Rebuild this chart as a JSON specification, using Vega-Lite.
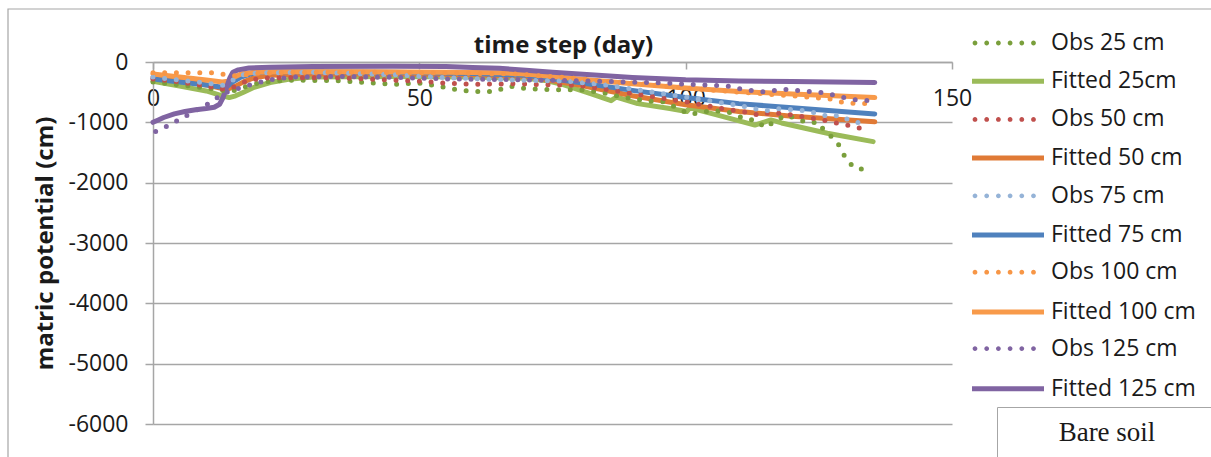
{
  "$schema": "https://vega.github.io/schema/vega-lite/v6.json",
  "width": 799,
  "height": 362,
  "padding": {"left": 8, "top": 9, "right": 0, "bottom": 0},
  "background": "white",
  "config": {"view": {"stroke": null}, "font": "Open Sans"},
  "resolve": {"scale": {"color": "independent"}},
  "datasets": {
    "lines": [
      {"s":"Obs 25 cm","d":0,"v":-330},{"s":"Obs 25 cm","d":5,"v":-380},{"s":"Obs 25 cm","d":10,"v":-430},{"s":"Obs 25 cm","d":13,"v":-470},{"s":"Obs 25 cm","d":15,"v":-480},{"s":"Obs 25 cm","d":17,"v":-420},{"s":"Obs 25 cm","d":20,"v":-340},{"s":"Obs 25 cm","d":25,"v":-300},{"s":"Obs 25 cm","d":35,"v":-310},{"s":"Obs 25 cm","d":45,"v":-370},{"s":"Obs 25 cm","d":50,"v":-350},{"s":"Obs 25 cm","d":53,"v":-390},{"s":"Obs 25 cm","d":57,"v":-460},{"s":"Obs 25 cm","d":60,"v":-490},{"s":"Obs 25 cm","d":64,"v":-490},{"s":"Obs 25 cm","d":67,"v":-400},{"s":"Obs 25 cm","d":70,"v":-440},{"s":"Obs 25 cm","d":75,"v":-460},{"s":"Obs 25 cm","d":80,"v":-460},{"s":"Obs 25 cm","d":84,"v":-500},{"s":"Obs 25 cm","d":88,"v":-580},{"s":"Obs 25 cm","d":93,"v":-650},{"s":"Obs 25 cm","d":96,"v":-660},{"s":"Obs 25 cm","d":100.8,"v":-870},{"s":"Obs 25 cm","d":105,"v":-800},{"s":"Obs 25 cm","d":108,"v":-830},{"s":"Obs 25 cm","d":111.5,"v":-955},{"s":"Obs 25 cm","d":113,"v":-960},{"s":"Obs 25 cm","d":115,"v":-1090},{"s":"Obs 25 cm","d":117,"v":-960},{"s":"Obs 25 cm","d":119,"v":-880},{"s":"Obs 25 cm","d":121,"v":-950},{"s":"Obs 25 cm","d":123,"v":-1010},{"s":"Obs 25 cm","d":125,"v":-1000},{"s":"Obs 25 cm","d":126,"v":-1140},{"s":"Obs 25 cm","d":128,"v":-1280},{"s":"Obs 25 cm","d":129,"v":-1410},{"s":"Obs 25 cm","d":130,"v":-1590},{"s":"Obs 25 cm","d":131.6,"v":-1750},{"s":"Obs 25 cm","d":134,"v":-1790},
      {"s":"Fitted 25cm","d":0,"v":-320},{"s":"Fitted 25cm","d":5,"v":-400},{"s":"Fitted 25cm","d":10,"v":-480},{"s":"Fitted 25cm","d":13,"v":-560},{"s":"Fitted 25cm","d":14.3,"v":-590},{"s":"Fitted 25cm","d":15.5,"v":-560},{"s":"Fitted 25cm","d":17,"v":-500},{"s":"Fitted 25cm","d":19,"v":-420},{"s":"Fitted 25cm","d":22,"v":-340},{"s":"Fitted 25cm","d":26,"v":-280},{"s":"Fitted 25cm","d":30,"v":-250},{"s":"Fitted 25cm","d":45,"v":-240},{"s":"Fitted 25cm","d":60,"v":-250},{"s":"Fitted 25cm","d":70,"v":-270},{"s":"Fitted 25cm","d":74,"v":-310},{"s":"Fitted 25cm","d":77,"v":-375},{"s":"Fitted 25cm","d":82,"v":-520},{"s":"Fitted 25cm","d":86,"v":-640},{"s":"Fitted 25cm","d":87,"v":-580},{"s":"Fitted 25cm","d":91,"v":-690},{"s":"Fitted 25cm","d":97,"v":-770},{"s":"Fitted 25cm","d":100.2,"v":-820},{"s":"Fitted 25cm","d":100.8,"v":-760},{"s":"Fitted 25cm","d":106,"v":-880},{"s":"Fitted 25cm","d":113,"v":-1045},{"s":"Fitted 25cm","d":116,"v":-960},{"s":"Fitted 25cm","d":118,"v":-1010},{"s":"Fitted 25cm","d":126.6,"v":-1180},{"s":"Fitted 25cm","d":135.2,"v":-1320},
      {"s":"Obs 50 cm","d":0,"v":-280},{"s":"Obs 50 cm","d":5,"v":-330},{"s":"Obs 50 cm","d":10,"v":-400},{"s":"Obs 50 cm","d":13,"v":-450},{"s":"Obs 50 cm","d":15,"v":-420},{"s":"Obs 50 cm","d":18,"v":-300},{"s":"Obs 50 cm","d":22,"v":-260},{"s":"Obs 50 cm","d":35,"v":-260},{"s":"Obs 50 cm","d":45,"v":-300},{"s":"Obs 50 cm","d":50,"v":-320},{"s":"Obs 50 cm","d":55,"v":-350},{"s":"Obs 50 cm","d":60,"v":-370},{"s":"Obs 50 cm","d":68,"v":-360},{"s":"Obs 50 cm","d":75,"v":-380},{"s":"Obs 50 cm","d":80,"v":-390},{"s":"Obs 50 cm","d":90,"v":-520},{"s":"Obs 50 cm","d":100,"v":-660},{"s":"Obs 50 cm","d":108,"v":-790},{"s":"Obs 50 cm","d":112,"v":-840},{"s":"Obs 50 cm","d":114,"v":-890},{"s":"Obs 50 cm","d":116,"v":-830},{"s":"Obs 50 cm","d":120,"v":-880},{"s":"Obs 50 cm","d":125,"v":-950},{"s":"Obs 50 cm","d":130,"v":-1040},{"s":"Obs 50 cm","d":132,"v":-1080},{"s":"Obs 50 cm","d":134.5,"v":-1140},
      {"s":"Fitted 50 cm","d":0,"v":-250},{"s":"Fitted 50 cm","d":5,"v":-310},{"s":"Fitted 50 cm","d":10,"v":-380},{"s":"Fitted 50 cm","d":13,"v":-440},{"s":"Fitted 50 cm","d":14,"v":-450},{"s":"Fitted 50 cm","d":15.5,"v":-400},{"s":"Fitted 50 cm","d":17,"v":-330},{"s":"Fitted 50 cm","d":19,"v":-260},{"s":"Fitted 50 cm","d":22,"v":-220},{"s":"Fitted 50 cm","d":30,"v":-200},{"s":"Fitted 50 cm","d":45,"v":-200},{"s":"Fitted 50 cm","d":60,"v":-210},{"s":"Fitted 50 cm","d":70,"v":-240},{"s":"Fitted 50 cm","d":80,"v":-380},{"s":"Fitted 50 cm","d":90,"v":-560},{"s":"Fitted 50 cm","d":100,"v":-710},{"s":"Fitted 50 cm","d":110,"v":-820},{"s":"Fitted 50 cm","d":120,"v":-900},{"s":"Fitted 50 cm","d":135.5,"v":-990},
      {"s":"Obs 75 cm","d":0,"v":-250},{"s":"Obs 75 cm","d":5,"v":-300},{"s":"Obs 75 cm","d":10,"v":-350},{"s":"Obs 75 cm","d":13,"v":-390},{"s":"Obs 75 cm","d":15,"v":-300},{"s":"Obs 75 cm","d":17,"v":-210},{"s":"Obs 75 cm","d":20,"v":-180},{"s":"Obs 75 cm","d":30,"v":-170},{"s":"Obs 75 cm","d":45,"v":-210},{"s":"Obs 75 cm","d":55,"v":-260},{"s":"Obs 75 cm","d":68,"v":-300},{"s":"Obs 75 cm","d":78,"v":-320},{"s":"Obs 75 cm","d":85,"v":-380},{"s":"Obs 75 cm","d":90,"v":-450},{"s":"Obs 75 cm","d":100,"v":-580},{"s":"Obs 75 cm","d":110,"v":-720},{"s":"Obs 75 cm","d":115,"v":-810},{"s":"Obs 75 cm","d":117,"v":-770},{"s":"Obs 75 cm","d":123,"v":-810},{"s":"Obs 75 cm","d":127,"v":-910},{"s":"Obs 75 cm","d":129,"v":-880},{"s":"Obs 75 cm","d":131,"v":-980},{"s":"Obs 75 cm","d":134,"v":-1030},
      {"s":"Fitted 75 cm","d":0,"v":-280},{"s":"Fitted 75 cm","d":5,"v":-330},{"s":"Fitted 75 cm","d":10,"v":-380},{"s":"Fitted 75 cm","d":13,"v":-420},{"s":"Fitted 75 cm","d":14,"v":-400},{"s":"Fitted 75 cm","d":15,"v":-330},{"s":"Fitted 75 cm","d":16.5,"v":-250},{"s":"Fitted 75 cm","d":19,"v":-180},{"s":"Fitted 75 cm","d":22,"v":-160},{"s":"Fitted 75 cm","d":30,"v":-160},{"s":"Fitted 75 cm","d":45,"v":-170},{"s":"Fitted 75 cm","d":60,"v":-190},{"s":"Fitted 75 cm","d":70,"v":-220},{"s":"Fitted 75 cm","d":80,"v":-340},{"s":"Fitted 75 cm","d":90,"v":-470},{"s":"Fitted 75 cm","d":100,"v":-590},{"s":"Fitted 75 cm","d":110,"v":-690},{"s":"Fitted 75 cm","d":120,"v":-760},{"s":"Fitted 75 cm","d":135.5,"v":-860},
      {"s":"Obs 100 cm","d":0,"v":-180},{"s":"Obs 100 cm","d":6,"v":-180},{"s":"Obs 100 cm","d":12,"v":-180},{"s":"Obs 100 cm","d":14,"v":-220},{"s":"Obs 100 cm","d":16,"v":-230},{"s":"Obs 100 cm","d":19,"v":-190},{"s":"Obs 100 cm","d":25,"v":-170},{"s":"Obs 100 cm","d":40,"v":-170},{"s":"Obs 100 cm","d":55,"v":-180},{"s":"Obs 100 cm","d":68,"v":-200},{"s":"Obs 100 cm","d":78,"v":-260},{"s":"Obs 100 cm","d":85,"v":-320},{"s":"Obs 100 cm","d":90,"v":-350},{"s":"Obs 100 cm","d":100,"v":-430},{"s":"Obs 100 cm","d":110,"v":-500},{"s":"Obs 100 cm","d":120,"v":-560},{"s":"Obs 100 cm","d":127,"v":-610},{"s":"Obs 100 cm","d":129,"v":-660},{"s":"Obs 100 cm","d":131,"v":-685},{"s":"Obs 100 cm","d":134,"v":-690},
      {"s":"Fitted 100 cm","d":0,"v":-200},{"s":"Fitted 100 cm","d":5,"v":-250},{"s":"Fitted 100 cm","d":10,"v":-300},{"s":"Fitted 100 cm","d":13,"v":-330},{"s":"Fitted 100 cm","d":14,"v":-320},{"s":"Fitted 100 cm","d":15,"v":-260},{"s":"Fitted 100 cm","d":16.5,"v":-200},{"s":"Fitted 100 cm","d":19,"v":-170},{"s":"Fitted 100 cm","d":25,"v":-160},{"s":"Fitted 100 cm","d":40,"v":-160},{"s":"Fitted 100 cm","d":55,"v":-170},{"s":"Fitted 100 cm","d":65,"v":-180},{"s":"Fitted 100 cm","d":70,"v":-200},{"s":"Fitted 100 cm","d":80,"v":-280},{"s":"Fitted 100 cm","d":90,"v":-360},{"s":"Fitted 100 cm","d":100,"v":-430},{"s":"Fitted 100 cm","d":110,"v":-490},{"s":"Fitted 100 cm","d":120,"v":-530},{"s":"Fitted 100 cm","d":135.5,"v":-590},
      {"s":"Obs 125 cm","d":0.5,"v":-1150},{"s":"Obs 125 cm","d":3,"v":-1050},{"s":"Obs 125 cm","d":5,"v":-950},{"s":"Obs 125 cm","d":9,"v":-760},{"s":"Obs 125 cm","d":11,"v":-660},{"s":"Obs 125 cm","d":13,"v":-530},{"s":"Obs 125 cm","d":14.5,"v":-480},{"s":"Obs 125 cm","d":17,"v":-410},{"s":"Obs 125 cm","d":19,"v":-360},{"s":"Obs 125 cm","d":21,"v":-315},{"s":"Obs 125 cm","d":23,"v":-280},{"s":"Obs 125 cm","d":26,"v":-250},{"s":"Obs 125 cm","d":35,"v":-240},{"s":"Obs 125 cm","d":45,"v":-255},{"s":"Obs 125 cm","d":55,"v":-280},{"s":"Obs 125 cm","d":65,"v":-290},{"s":"Obs 125 cm","d":72,"v":-300},{"s":"Obs 125 cm","d":80,"v":-310},{"s":"Obs 125 cm","d":88,"v":-330},{"s":"Obs 125 cm","d":95,"v":-345},{"s":"Obs 125 cm","d":102,"v":-375},{"s":"Obs 125 cm","d":108,"v":-400},{"s":"Obs 125 cm","d":111,"v":-460},{"s":"Obs 125 cm","d":115,"v":-500},{"s":"Obs 125 cm","d":118,"v":-450},{"s":"Obs 125 cm","d":122,"v":-480},{"s":"Obs 125 cm","d":125,"v":-500},{"s":"Obs 125 cm","d":128,"v":-550},{"s":"Obs 125 cm","d":131,"v":-620},{"s":"Obs 125 cm","d":134.5,"v":-640},
      {"s":"Fitted 125 cm","d":0,"v":-1000},{"s":"Fitted 125 cm","d":1,"v":-960},{"s":"Fitted 125 cm","d":2,"v":-920},{"s":"Fitted 125 cm","d":4,"v":-860},{"s":"Fitted 125 cm","d":6,"v":-820},{"s":"Fitted 125 cm","d":8,"v":-790},{"s":"Fitted 125 cm","d":10,"v":-770},{"s":"Fitted 125 cm","d":11.5,"v":-750},{"s":"Fitted 125 cm","d":12.5,"v":-700},{"s":"Fitted 125 cm","d":13.2,"v":-580},{"s":"Fitted 125 cm","d":13.8,"v":-420},{"s":"Fitted 125 cm","d":14.4,"v":-270},{"s":"Fitted 125 cm","d":15,"v":-170},{"s":"Fitted 125 cm","d":16,"v":-130},{"s":"Fitted 125 cm","d":18,"v":-100},{"s":"Fitted 125 cm","d":22,"v":-85},{"s":"Fitted 125 cm","d":30,"v":-75},{"s":"Fitted 125 cm","d":45,"v":-70},{"s":"Fitted 125 cm","d":55,"v":-75},{"s":"Fitted 125 cm","d":60,"v":-90},{"s":"Fitted 125 cm","d":65,"v":-105},{"s":"Fitted 125 cm","d":70,"v":-135},{"s":"Fitted 125 cm","d":75,"v":-170},{"s":"Fitted 125 cm","d":80,"v":-200},{"s":"Fitted 125 cm","d":90,"v":-255},{"s":"Fitted 125 cm","d":100,"v":-295},{"s":"Fitted 125 cm","d":110,"v":-315},{"s":"Fitted 125 cm","d":120,"v":-325},{"s":"Fitted 125 cm","d":135.5,"v":-340}
    ],
    "note": [{"note": "Bare soil", "k": 0}]
  },
  "layer": [
    {
      "data": {"name": "lines"},
      "transform": [{"filter": "indexof(datum.s, 'Fitted') === 0"}],
      "mark": {"type": "line", "strokeWidth": 5, "strokeCap": "round", "strokeJoin": "round"},
      "encoding": {
        "x": {
          "field": "d", "type": "quantitative",
          "scale": {"domain": [0, 150], "nice": false},
          "axis": {
            "title": "time step (day)", "orient": "bottom", "offset": -362,
            "values": [0, 50, 100, 150], "labelFlush": false, "labelOverlap": false,
            "grid": false, "domain": true, "domainColor": "#a6a6a6", "domainWidth": 1.5,
            "ticks": true, "tickColor": "#a6a6a6", "tickWidth": 1.5, "tickSize": 7,
            "labelFont": "Open Sans", "labelFontSize": 23, "labelColor": "#1a1a1a",
            "labelBaseline": "alphabetic", "labelPadding": 36,
            "titleFont": "Open Sans", "titleFontSize": 24, "titleFontWeight": "bold", "titleColor": "#1a1a1a",
            "titleX": 410, "titleY": -10, "titleBaseline": "alphabetic", "titleAlign": "center"
          }
        },
        "y": {
          "field": "v", "type": "quantitative",
          "scale": {"domain": [-6000, 0], "nice": false},
          "axis": {
            "title": "matric potential (cm)",
            "values": [-6000, -5000, -4000, -3000, -2000, -1000, 0],
            "labelExpr": "'' + datum.value",
            "grid": true, "gridColor": "#a6a6a6", "gridWidth": 1.5,
            "domainColor": "#a6a6a6", "domainWidth": 1.5,
            "tickColor": "#a6a6a6", "tickWidth": 1.5, "tickSize": 8,
            "labelFont": "Open Sans", "labelFontSize": 23, "labelColor": "#1a1a1a", "labelPadding": 17,
            "titleFont": "Open Sans", "titleFontSize": 24, "titleFontWeight": "bold", "titleColor": "#1a1a1a",
            "titleX": -108, "titleY": 181, "titleBaseline": "middle", "titleAlign": "center"
          }
        },
        "color": {
          "field": "s", "type": "nominal",
          "scale": {
            "domain": ["Fitted 25cm", "Fitted 50 cm", "Fitted 75 cm", "Fitted 100 cm", "Fitted 125 cm"],
            "range": ["#9bbb59", "#e07a36", "#4f81bd", "#f89a4a", "#8064a2"]
          },
          "legend": {
            "orient": "none", "legendX": 840.5, "legendY": 4.7, "title": null, "padding": 0,
            "symbolType": "M-3,0H3", "symbolSize": 576, "symbolStrokeWidth": 5,
            "labelFont": "Open Sans", "labelFontSize": 23, "labelColor": "#1a1a1a",
            "labelOffset": 28.5, "rowPadding": 49.9, "labelLimit": 300
          }
        }
      }
    },
    {
      "data": {"name": "lines"},
      "transform": [{"filter": "indexof(datum.s, 'Obs') === 0"}],
      "mark": {"type": "line", "strokeWidth": 5, "strokeCap": "round", "strokeJoin": "round", "strokeDash": [0, 11.7]},
      "encoding": {
        "x": {"field": "d", "type": "quantitative"},
        "y": {"field": "v", "type": "quantitative"},
        "color": {
          "field": "s", "type": "nominal",
          "scale": {
            "domain": ["Obs 25 cm", "Obs 50 cm", "Obs 75 cm", "Obs 100 cm", "Obs 125 cm"],
            "range": ["#7a9f3c", "#c0504d", "#95b3d7", "#f79646", "#8064a2"]
          },
          "legend": null
        }
      }
    },
    {
      "data": {"name": "lines"},
      "transform": [{"filter": "false"}],
      "mark": {"type": "point", "filled": true, "opacity": 1, "strokeWidth": 0},
      "encoding": {
        "color": {
          "field": "s", "type": "nominal",
          "scale": {
            "domain": ["Obs 25 cm", "Obs 50 cm", "Obs 75 cm", "Obs 100 cm", "Obs 125 cm"],
            "range": ["#7a9f3c", "#c0504d", "#95b3d7", "#f79646", "#8064a2"]
          },
          "legend": {
            "orient": "none", "legendX": 843, "legendY": -31, "title": null, "padding": 0,
            "symbolType": "M-2.95,0a0.2,0.2 0 1,0 0.4,0a0.2,0.2 0 1,0 -0.4,0M-1.975,0a0.2,0.2 0 1,0 0.4,0a0.2,0.2 0 1,0 -0.4,0M-1,0a0.2,0.2 0 1,0 0.4,0a0.2,0.2 0 1,0 -0.4,0M-0.025,0a0.2,0.2 0 1,0 0.4,0a0.2,0.2 0 1,0 -0.4,0M0.95,0a0.2,0.2 0 1,0 0.4,0a0.2,0.2 0 1,0 -0.4,0M1.925,0a0.2,0.2 0 1,0 0.4,0a0.2,0.2 0 1,0 -0.4,0",
            "symbolSize": 576, "symbolStrokeWidth": 0, "symbolOpacity": 1,
            "labelFont": "Open Sans", "labelFontSize": 23, "labelColor": "#1a1a1a",
            "labelOffset": 31, "rowPadding": 52.4, "labelLimit": 300
          }
        }
      }
    },
    {
      "data": {"name": "note"},
      "mark": {"type": "point", "opacity": 0},
      "encoding": {
        "shape": {
          "field": "note", "type": "nominal",
          "legend": {
            "orient": "none", "legendX": 844, "legendY": 345,
            "title": "Bare soil", "titleFont": "Liberation Serif", "titleFontSize": 27,
            "titleFontWeight": "normal", "titleColor": "#1a1a1a",
            "titleAnchor": "middle", "titleAlign": "center", "titleBaseline": "top", "titlePadding": 4,
            "strokeColor": "#a6a6a6", "padding": 13,
            "symbolType": "stroke", "symbolSize": 37636, "symbolStrokeWidth": 0, "symbolOpacity": 0,
            "labelExpr": "''", "labelFontSize": 10,
            "labelOffset": 0, "labelLimit": 400
          }
        },
        "fill": {
          "field": "k", "type": "quantitative",
          "scale": {"domain": [0, 1], "range": ["rgba(255,255,255,0)", "rgba(255,255,255,0)"]},
          "legend": {
            "orient": "none", "legendX": -145, "legendY": -53, "title": null, "padding": 0,
            "direction": "vertical", "gradientLength": 450, "gradientThickness": 1205,
            "gradientStrokeColor": "#a6a6a6", "gradientStrokeWidth": 1.2,
            "labelExpr": "''", "labelOpacity": 0
          }
        }
      }
    }
  ]
}
